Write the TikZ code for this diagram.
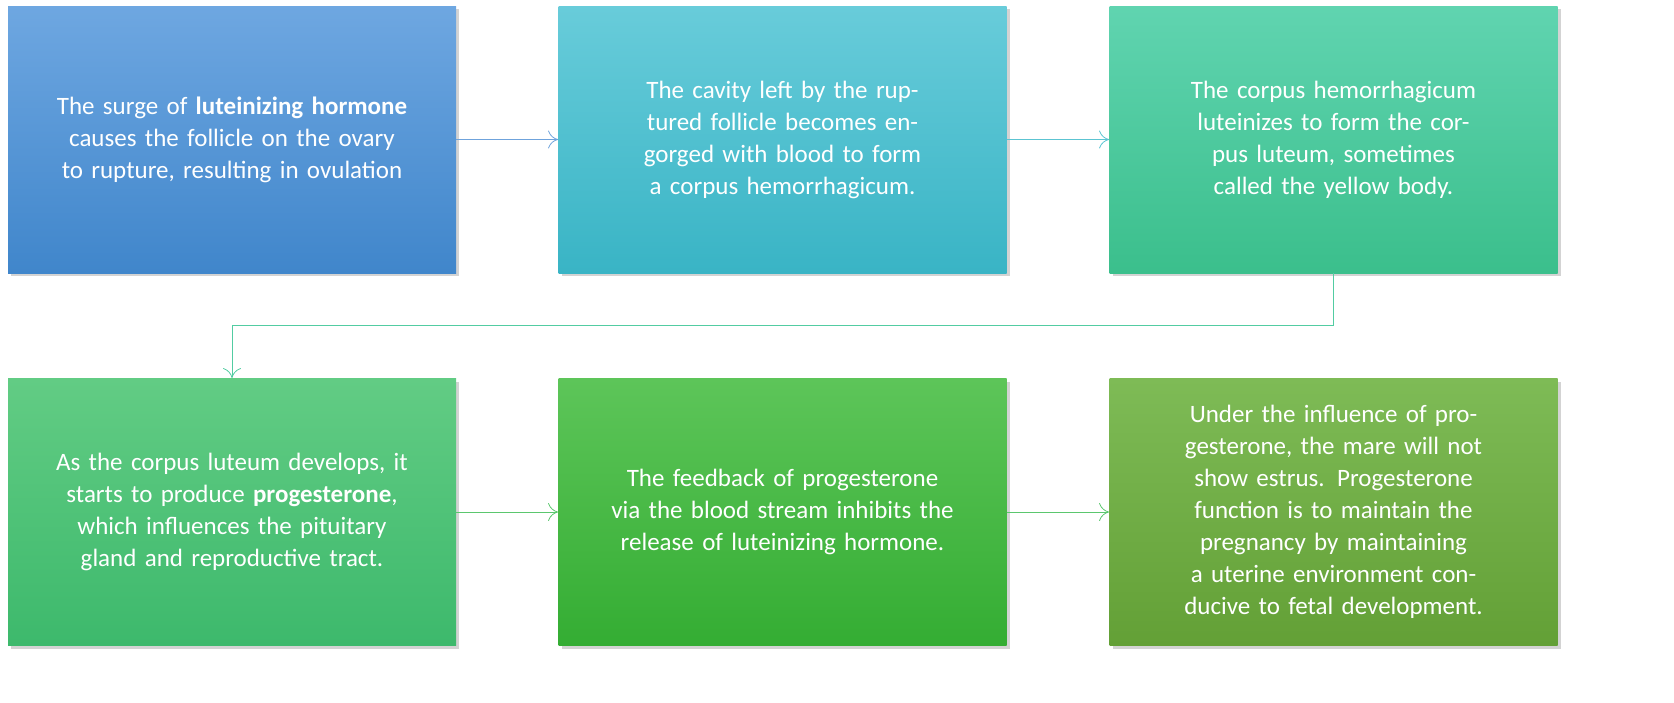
\documentclass[tikz,border=0pt]{standalone}
\usepackage{fontspec}
\setmainfont{Carlito}
\usetikzlibrary{arrows.meta, positioning, shadows}
\definecolor{ablue}{HTML}{6FA3DC}
\definecolor{acyan}{HTML}{5CC4D2}
\definecolor{ateal}{HTML}{52CCA2}
\definecolor{agreen}{HTML}{5BC76E}
\definecolor{surgetop}{HTML}{6EA7E1}\definecolor{surgebot}{HTML}{4086CB}
\definecolor{cavitytop}{HTML}{68CCDA}\definecolor{cavitybot}{HTML}{39B4C5}
\definecolor{luteumtop}{HTML}{60D4B0}\definecolor{luteumbot}{HTML}{3BBF8C}
\definecolor{progtop}{HTML}{62CC84}\definecolor{progbot}{HTML}{3DB96C}
\definecolor{feedtop}{HTML}{5DC559}\definecolor{feedbot}{HTML}{34AD33}
\definecolor{estrustop}{HTML}{7EBB56}\definecolor{estrusbot}{HTML}{63A036}
\tikzstyle{stage} = [rectangle, minimum width=224pt, minimum height=133.5pt, text width=176pt, align=center, text=white, font=\fontsize{12.5}{16}\selectfont, drop shadow={shadow xshift=1.5pt, shadow yshift=-1.5pt, opacity=0.35}]
\tikzstyle{link} = [line width=0.4pt, -{To[length=5pt,width=9pt]}]
\begin{document}
\begin{tikzpicture}[x=0.5pt, y=-0.5pt]
\useasboundingbox (0,0) rectangle (1674,702);
\node (surge) [stage, top color=surgetop, bottom color=surgebot] at (232,139.5) {The surge of \textbf{luteinizing hormone} causes the follicle on the ovary to rupture, resulting in ovulation};
\node (cavity) [stage, top color=cavitytop, bottom color=cavitybot] at (782.5,139.5) {The cavity left by the ruptured follicle becomes engorged with blood to form a corpus hemorrhagicum.};
\node (luteum) [stage, top color=luteumtop, bottom color=luteumbot] at (1333.5,139.5) {The corpus hemorrhagicum luteinizes to form the corpus luteum, sometimes called the yellow body.};
\node (progest) [stage, top color=progtop, bottom color=progbot] at (232,512) {As the corpus luteum develops, it starts to produce \textbf{progesterone}, which influences the pituitary gland and reproductive tract.};
\node (feedback) [stage, top color=feedtop, bottom color=feedbot] at (782.5,512) {The feedback of progesterone via the blood stream inhibits the release of luteinizing hormone.};
\node (estrus) [stage, top color=estrustop, bottom color=estrusbot] at (1333.5,512) {Under the influence of progesterone, the mare will not show estrus. Progesterone function is to maintain the pregnancy by maintaining a uterine environment conducive to fetal development.};

\draw [link, ablue] (surge) -- (cavity);
\draw [link, acyan] (cavity) -- (luteum);
\draw [link, ateal] (luteum.south) -- ++(0,52) -| (progest.north);
\draw [link, agreen] (progest) -- (feedback);
\draw [link, agreen] (feedback) -- (estrus);
\end{tikzpicture}
\end{document}
